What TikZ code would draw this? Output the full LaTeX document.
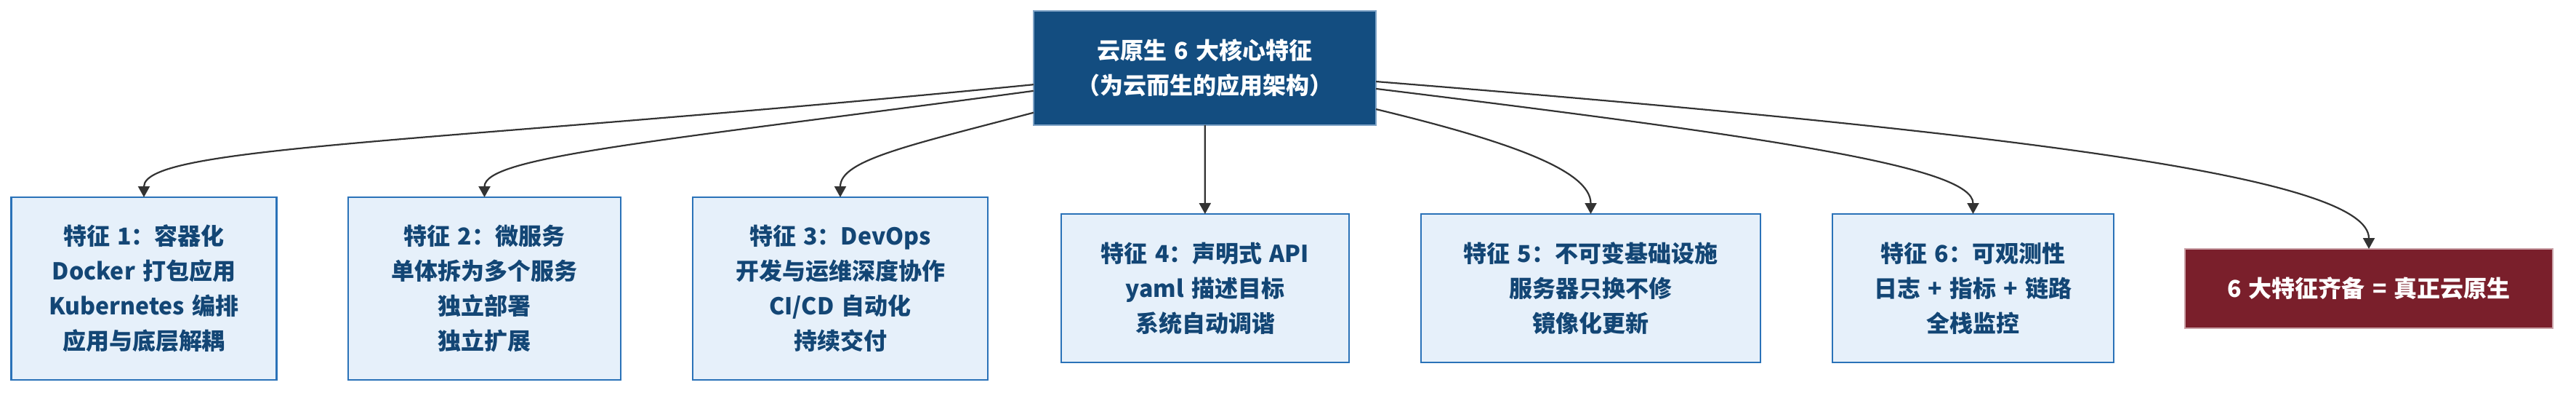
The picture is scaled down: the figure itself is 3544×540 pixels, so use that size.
\documentclass[tikz,border=0pt]{standalone}
\usepackage{fontspec}
\setmainfont{Noto Sans CJK SC}[WordSpace=1.4]
\usetikzlibrary{arrows.meta}
\definecolor{topblue}{HTML}{134D80}
\definecolor{topedge}{HTML}{7FA3C6}
\definecolor{lightfill}{HTML}{E6F0FA}
\definecolor{lightedge}{HTML}{2A72B8}
\definecolor{darktext}{HTML}{134675}
\definecolor{redfill}{HTML}{7A1F2B}
\definecolor{rededge}{HTML}{C9A0A6}
\definecolor{edgecol}{HTML}{333333}
\begin{document}
\begin{tikzpicture}[x=1pt,y=-1pt,
  txt/.style={font=\fontsize{32}{48}\selectfont\bfseries, align=center, inner sep=0pt, outer sep=0pt},
  topbox/.style={txt, fill=topblue, draw=topedge, line width=1.2pt, text=white},
  featbox/.style={txt, fill=lightfill, draw=lightedge, line width=2.2pt, text=darktext},
  redbox/.style={txt, fill=redfill, draw=rededge, line width=1.2pt, text=white},
  edge/.style={draw=edgecol, line width=2.2pt, -{Triangle[length=15pt,width=16pt]}}
]
\useasboundingbox[fill=white] (0,0) rectangle (3544,540);
\node[topbox, minimum width=471pt, minimum height=157pt] (top) at (1657.5,93.5) {云原生 6 大核心特征\\（为云而生的应用架构）};
\node[featbox, minimum width=365pt, minimum height=251pt] (b1) at (198,396.5) {特征 1：容器化\\Docker 打包应用\\Kubernetes 编排\\应用与底层解耦};
\node[featbox, minimum width=375pt, minimum height=251pt] (b2) at (666.5,396.5) {特征 2：微服务\\单体拆为多个服务\\独立部署\\独立扩展};
\node[featbox, minimum width=406pt, minimum height=251pt] (b3) at (1156,396.5) {特征 3：DevOps\\开发与运维深度协作\\CI/CD 自动化\\持续交付};
\node[featbox, minimum width=396pt, minimum height=204pt] (b4) at (1658,396) {特征 4：声明式 API\\yaml 描述目标\\系统自动调谐};
\node[featbox, minimum width=467pt, minimum height=204pt] (b5) at (2188.5,396) {特征 5：不可变基础设施\\服务器只换不修\\镜像化更新};
\node[featbox, minimum width=387pt, minimum height=204pt] (b6) at (2714.5,396) {特征 6：可观测性\\日志 + 指标 + 链路\\全栈监控};
\node[redbox, minimum width=506pt, minimum height=109pt] (b7) at (3259,396.5) {6 大特征齐备 = 真正云原生};
\draw[edge] (top) .. controls (600,197) and (198,200) .. (b1);
\draw[edge] (top) .. controls (900,195) and (666.5,215) .. (b2);
\draw[edge] (top) .. controls (1250,200) and (1156,220) .. (b3);
\draw[edge] (top) -- (b4);
\draw[edge] (top) .. controls (2080,195) and (2188.5,235) .. (b5);
\draw[edge] (top) .. controls (2450,190) and (2714.5,230) .. (b6);
\draw[edge] (top) .. controls (2800,184) and (3259,245) .. (b7);
\end{tikzpicture}
\end{document}
